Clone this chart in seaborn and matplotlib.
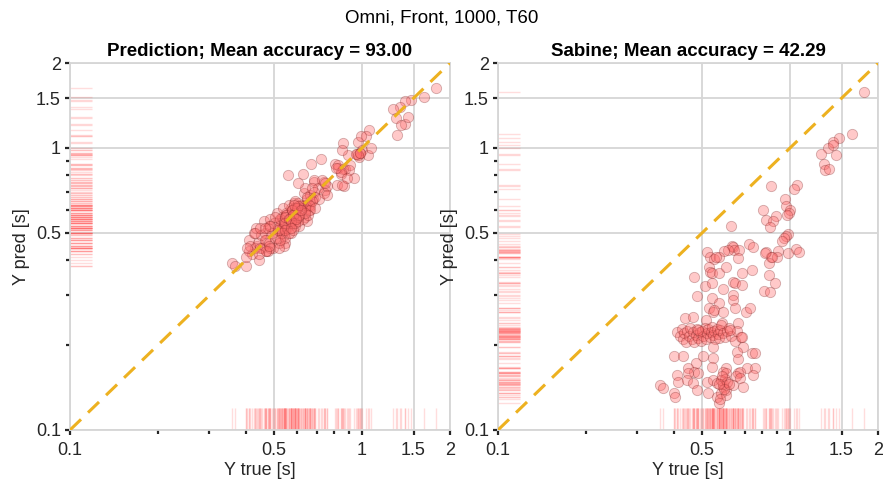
import numpy as np
import pandas as pd
import matplotlib
matplotlib.use("Agg")
import matplotlib.pyplot as plt
import matplotlib.ticker as mticker
import seaborn as sns

# ---------------- data ----------------
y_true = [
    1.79, 1.63, 1.47, 1.40, 1.35, 1.40, 1.44, 1.28, 1.31, 1.32,
    1.36, 1.06, 1.03, 0.86, 0.96, 0.97, 1.00, 0.99, 0.975, 0.81,
    0.83, 0.895, 0.874, 0.854, 0.63, 0.984, 0.968, 0.953, 0.938, 0.723,
    0.633, 0.638, 0.643, 0.668, 0.613, 0.594, 0.520, 0.532, 0.549, 0.571,
    0.663, 0.827, 0.909, 0.860, 0.902, 0.847, 1.05, 1.072, 0.984, 0.528,
    0.532, 0.540, 0.571, 0.603, 0.684, 0.741, 0.847, 0.469, 0.557, 0.745,
    0.821, 0.867, 0.511, 0.540, 0.589, 0.638, 0.648, 0.684, 0.638, 0.638,
    0.648, 0.706, 0.729, 0.814, 0.854, 0.888, 0.480, 0.540, 0.571, 0.528,
    0.545, 0.549, 0.589, 0.437, 0.465, 0.515, 0.585, 0.663,
    0.41, 0.42, 0.425, 0.43, 0.435, 0.44, 0.445, 0.45, 0.455, 0.46,
    0.465, 0.47, 0.475, 0.48, 0.485, 0.49, 0.495, 0.50, 0.505, 0.51,
    0.515, 0.52, 0.525, 0.53, 0.535, 0.54, 0.545, 0.55, 0.555, 0.56,
    0.565, 0.57, 0.575, 0.58, 0.59, 0.60, 0.61, 0.62, 0.63, 0.65,
    0.66, 0.68, 0.484, 0.623, 0.684, 0.545, 0.690, 0.658,
    0.400, 0.430, 0.476, 0.503, 0.545, 0.603, 0.663, 0.741, 0.758, 0.712,
    0.758, 0.447, 0.469, 0.447, 0.484, 0.540, 0.589, 0.603, 0.663, 0.674,
    0.653, 0.746, 0.410, 0.413, 0.444, 0.465, 0.520, 0.545, 0.562, 0.589,
    0.603, 0.638, 0.674, 0.690, 0.359, 0.367, 0.400, 0.404, 0.480, 0.524,
    0.562, 0.580, 0.603, 0.571, 0.575, 0.58, 0.59, 0.60, 0.61, 0.595,
    0.585, 0.57, 0.62,
]
y_pred = [
    1.63, 1.52, 1.48, 1.47, 1.40, 1.22, 1.29, 1.37, 1.28, 1.11,
    1.21, 1.157, 1.10, 1.04, 0.95, 1.05, 0.98, 1.10, 0.93, 0.88,
    0.85, 0.94, 0.84, 0.98, 0.81, 0.96, 0.94, 0.95, 0.78, 0.91,
    0.69, 0.72, 0.62, 0.88, 0.63, 0.60, 0.55, 0.52, 0.58, 0.54,
    0.65, 0.87, 0.87, 0.84, 0.835, 0.81, 0.94, 1.00, 0.96, 0.50,
    0.57, 0.53, 0.61, 0.75, 0.76, 0.76, 0.82, 0.47, 0.80, 0.71,
    0.74, 0.73, 0.48, 0.51, 0.56, 0.60, 0.66, 0.77, 0.57, 0.63,
    0.55, 0.72, 0.77, 0.85, 0.74, 0.78, 0.53, 0.49, 0.57, 0.54,
    0.46, 0.59, 0.53, 0.45, 0.50, 0.52, 0.64, 0.68,
    0.47, 0.42, 0.50, 0.44, 0.52, 0.46, 0.40, 0.49, 0.44, 0.55,
    0.47, 0.43, 0.52, 0.46, 0.56, 0.50, 0.44, 0.54, 0.48, 0.59,
    0.51, 0.46, 0.56, 0.50, 0.61, 0.54, 0.48, 0.58, 0.52, 0.63,
    0.56, 0.50, 0.60, 0.54, 0.65, 0.58, 0.53, 0.62, 0.56, 0.67,
    0.60, 0.66, 0.44, 0.61, 0.70, 0.54, 0.67, 0.63,
    0.38, 0.50, 0.43, 0.57, 0.51, 0.64, 0.62, 0.69, 0.73, 0.66,
    0.68, 0.52, 0.43, 0.44, 0.53, 0.45, 0.61, 0.55, 0.60, 0.72,
    0.58, 0.75, 0.43, 0.45, 0.42, 0.52, 0.44, 0.57, 0.56, 0.59,
    0.62, 0.59, 0.65, 0.61, 0.39, 0.38, 0.41, 0.44, 0.45, 0.47,
    0.50, 0.51, 0.57, 0.55, 0.60, 0.58, 0.54, 0.61, 0.58, 0.56,
    0.63, 0.52, 0.60,
]
y_sabine = [
    1.58, 1.12, 1.08, 1.05, 1.00, 1.02, 0.94, 0.95, 0.88, 0.835,
    0.84, 0.74, 0.715, 0.73, 0.66, 0.62, 0.60, 0.59, 0.58, 0.60,
    0.555, 0.574, 0.55, 0.524, 0.53, 0.495, 0.487, 0.478, 0.468, 0.456,
    0.449, 0.445, 0.435, 0.435, 0.435, 0.431, 0.428, 0.41, 0.404, 0.41,
    0.407, 0.428, 0.431, 0.41, 0.41, 0.391, 0.438, 0.428, 0.424, 0.378,
    0.363, 0.36, 0.36, 0.378, 0.36, 0.369, 0.354, 0.349, 0.41, 0.445,
    0.424, 0.41, 0.324, 0.332, 0.316, 0.335, 0.332, 0.327, 0.301, 0.289,
    0.271, 0.262, 0.271, 0.311, 0.308, 0.332, 0.299, 0.294, 0.282, 0.271,
    0.262, 0.266, 0.262, 0.249, 0.252, 0.245, 0.24, 0.24,
    0.222, 0.215, 0.228, 0.21, 0.22, 0.205, 0.225, 0.215, 0.23, 0.21,
    0.222, 0.205, 0.218, 0.228, 0.212, 0.222, 0.207, 0.225, 0.215, 0.23,
    0.21, 0.22, 0.228, 0.213, 0.222, 0.232, 0.217, 0.225, 0.21, 0.228,
    0.219, 0.212, 0.226, 0.235, 0.22, 0.213, 0.224, 0.23, 0.215, 0.207,
    0.225, 0.214, 0.226, 0.226, 0.214, 0.197, 0.197, 0.189,
    0.183, 0.183, 0.173, 0.183, 0.18, 0.166, 0.179, 0.1875, 0.1875, 0.166,
    0.166, 0.166, 0.161, 0.159, 0.159, 0.167, 0.161, 0.159, 0.159, 0.161,
    0.155, 0.157, 0.157, 0.148, 0.15, 0.147, 0.148, 0.15, 0.147, 0.142,
    0.139, 0.144, 0.153, 0.142, 0.144, 0.141, 0.135, 0.131, 0.139, 0.135,
    0.131, 0.135, 0.133, 0.125, 0.129, 0.15, 0.145, 0.152, 0.148, 0.14,
    0.155, 0.145, 0.145,
]

suptitle = "Omni, Front, 1000, T60"
panel_titles = ["Prediction; Mean accuracy = 93.00", "Sabine; Mean accuracy = 42.29"]
xlabel = "Y true [s]"
ylabel = "Y pred [s]"
lims = [0.1, 2.0]
major_ticks = [0.1, 0.5, 1, 1.5, 2]
major_labels = ["0.1", "0.5", "1", "1.5", "2"]
minor_ticks = [0.2, 0.3, 0.4, 0.6, 0.7, 0.8, 0.9]

df = pd.DataFrame({"true": y_true, "pred": y_pred, "sabine": y_sabine})

# ---------------- style ----------------
sns.set_theme(style="white")
plt.rcParams["font.family"] = ["Liberation Sans", "DejaVu Sans"]

fig = plt.figure(figsize=(8.83, 4.91), dpi=100)
W, H = 883, 491
ax_l = fig.add_axes([70 / W, 1 - 430 / H, 380 / W, 367 / H])
ax_r = fig.add_axes([498 / W, 1 - 430 / H, 380 / W, 367 / H])

grid_c = "#d6d6d6"
txt_c = "#262626"
pt_face = (1.0, 0.42, 0.42, 0.36)
pt_edge = (0.45, 0.10, 0.10, 0.32)
rug_c = "#ff5555"
diag_c = "#EDB120"
fs = 13

for ax, col, title in [(ax_l, "pred", panel_titles[0]), (ax_r, "sabine", panel_titles[1])]:
    ax.set_xscale("log")
    ax.set_yscale("log")
    ax.set_xlim(lims)
    ax.set_ylim(lims)

    sns.rugplot(data=df, x="true", ax=ax, height=0.06, color=rug_c, alpha=0.2, lw=1, zorder=1)
    sns.rugplot(data=df, y=col, ax=ax, height=0.058, color=rug_c, alpha=0.2, lw=1, zorder=1)
    sns.scatterplot(data=df, x="true", y=col, ax=ax, s=55, facecolor=pt_face,
                    edgecolor=pt_edge, linewidth=0.6, zorder=3)
    ax.plot(lims, lims, color=diag_c, lw=2.2, linestyle=(0, (5, 3.2)), zorder=4)

    for axis in (ax.xaxis, ax.yaxis):
        axis.set_major_locator(mticker.FixedLocator(major_ticks))
        axis.set_major_formatter(mticker.FixedFormatter(major_labels))
        axis.set_minor_locator(mticker.FixedLocator(minor_ticks))
        axis.set_minor_formatter(mticker.NullFormatter())

    ax.grid(True, which="major", color=grid_c, lw=1.3, zorder=0)
    ax.set_axisbelow(True)
    for s in ax.spines.values():
        s.set_color(grid_c)
        s.set_linewidth(1.3)
    ax.tick_params(which="both", bottom=True, left=True, top=False, right=False)
    ax.tick_params(which="major", direction="out", length=3.5, width=1.6, color=txt_c,
                   labelsize=fs, labelcolor=txt_c, pad=3)
    ax.tick_params(which="minor", direction="out", length=3, width=1.6, color=txt_c)
    ax.tick_params(axis="x", which="major", pad=5)
    ax.set_xlabel(xlabel, fontsize=fs, color=txt_c, labelpad=2)
    ax.set_ylabel(ylabel, fontsize=fs, color=txt_c, labelpad=4)
    ax.set_title(title, fontsize=13.5, fontweight="bold", color="black", pad=5)

fig.suptitle(suptitle, y=0.98, fontsize=13.5, color="black", va="top")
fig.savefig("out.png", dpi=100)
